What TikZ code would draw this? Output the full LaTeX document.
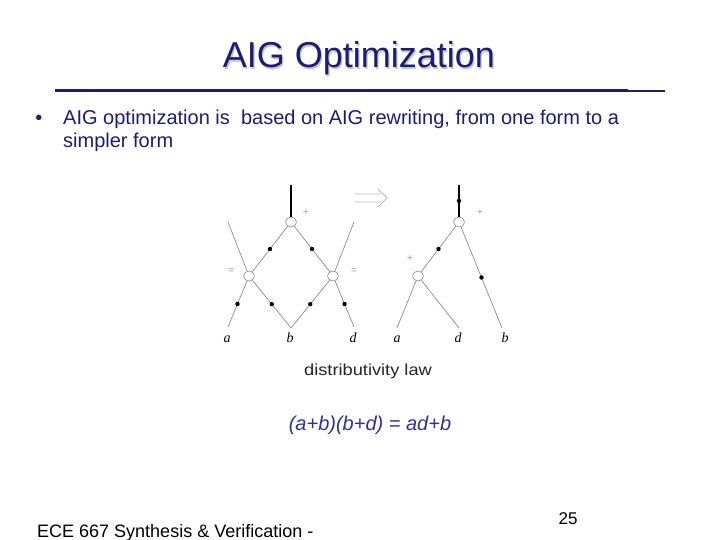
\documentclass[tikz,border=0pt]{standalone}
\usepackage{fontspec}
\usepackage{graphicx}
\setmainfont{Liberation Sans}
\newfontfamily\lblfont{Liberation Serif}
\usetikzlibrary{positioning,calc,arrows.meta,shapes.geometric}
\definecolor{navy}{HTML}{1C1C76}
\definecolor{eqblue}{HTML}{30309A}
\definecolor{wire}{gray}{0.55}
\definecolor{faint}{gray}{0.62}
\tikzset{
  gate/.style={draw=wire, fill=white, ellipse, minimum width=11pt, minimum height=10pt, inner sep=0pt, line width=0.6pt},
  edge/.style={draw=wire, line width=0.7pt},
  stem/.style={draw=black, line width=1.2pt},
  blob/.style={circle, fill=black, minimum size=4.4pt, inner sep=0pt},
  tag/.style={text=faint, font=\fontsize{10}{10}\selectfont, inner sep=0pt},
  var/.style={font=\fontsize{14}{14}\selectfont\lblfont\itshape, anchor=base, inner sep=0pt}}

\begin{document}
\begin{tikzpicture}[x=1pt, y=-1pt]
\path[use as bounding box, fill=white] (0,0) rectangle (720,540);
% title and rule
\node[anchor=base, text=black!22, font=\fontsize{36}{36}\selectfont] (titlesh) at (360.2,69.2) {AIG Optimization};
\node[anchor=base, text=navy, font=\fontsize{36}{36}\selectfont] (title) at (359,68) {AIG Optimization};
\coordinate (r0) at (55,90.5);
\coordinate (r1) at (628,90.5);
\coordinate (r2) at (665,91);
\draw[navy, line width=3pt] (r0) -- (r1);
\draw[navy, line width=2pt] (r1 |- r2) -- (r2);
% bullet
\node[anchor=base, text=navy, font=\fontsize{20}{20}\selectfont] (bul) at (39,124.5) {\textbullet};
\node[anchor=base west, inner sep=0pt, text=navy, font=\fontsize{20}{20}\selectfont] (bl1) at (63,124.5) {AIG optimization is \ based on AIG rewriting, from one form to a};
\node[anchor=base west, inner sep=0pt, text=navy, font=\fontsize{20}{20}\selectfont] (bl2) at (63,147.5) {simpler form};
% left graph
\coordinate (t1) at (291,185);
\node[gate] (T1) at (291,222) {};
\node[gate] (L1) at (249,276) {};
\node[gate] (R1) at (333,276) {};
\coordinate (ul) at (228,222);
\coordinate (ur) at (354,222);
\coordinate (ea) at (228,327);
\coordinate (eb) at (291,328);
\coordinate (ed) at (354,327);
\draw[stem] (t1) -- (T1);
\draw[edge] (T1) -- node[blob] {} (L1);
\draw[edge] (T1) -- node[blob] {} (R1);
\draw[edge] (ul) -- (L1);
\draw[edge] (ur) -- (R1);
\draw[edge] (L1) -- node[blob] {} (ea);
\draw[edge] (L1) -- node[blob] {} (eb);
\draw[edge] (R1) -- node[blob] {} (eb);
\draw[edge] (R1) -- node[blob] {} (ed);
\node[tag] (p1) at (306,213) {+};
\node[tag] (q1) at (231,271) {=};
\node[tag] (q2) at (354,271) {=};
\node[var] (va1) at (227,342) {a};
\node[var] (vb1) at (290,342) {b};
\node[var] (vd1) at (353,342) {d};
% rewrite arrow
\coordinate (w0) at (355,194);
\coordinate (w1) at (381,194);
\coordinate (w2) at (355,202);
\coordinate (w3) at (381,202);
\coordinate (wt) at (387,198);
\draw[faint!70, line width=0.9pt] (w0) -- (w1) (w2) -- (w3) ($(wt)+(-9,-9)$) -- (wt) -- ($(wt)+(-9,9)$);
% right graph
\coordinate (t2) at (459,185);
\node[gate] (T2) at (459,222) {};
\node[gate] (N2) at (418,276) {};
\coordinate (fa) at (397,328);
\coordinate (fd) at (459,328);
\coordinate (fb) at (502,328);
\draw[stem] (t2) -- node[blob] {} (T2);
\draw[edge] (T2) -- node[blob] {} (N2);
\draw[edge] (T2) -- node[blob] {} (fb);
\draw[edge] (N2) -- (fa);
\draw[edge] (N2) -- (fd);
\node[tag] (p2) at (480,213) {+};
\node[tag] (p3) at (410,259) {+};
\node[var] (va2) at (397,342) {a};
\node[var] (vd2) at (458,342) {d};
\node[var] (vb2) at (505,342) {b};
% captions
\node[text=black!85, font=\fontsize{16}{16}\selectfont] (law) at (368,371) {\scalebox{1.14}[1]{distributivity law}};
\node[text=eqblue, font=\fontsize{20}{20}\selectfont\itshape] (eq) at (370,425) {(a+b)(b+d) = ad+b};
% footer
\node[anchor=base west, inner sep=0pt, font=\fontsize{18}{18}\selectfont] (foot) at (37,537) {ECE 667 Synthesis \& Verification -};
\node[anchor=base, inner sep=0pt, font=\fontsize{17}{17}\selectfont] (pg) at (568,524) {25};
\end{tikzpicture}
\end{document}
